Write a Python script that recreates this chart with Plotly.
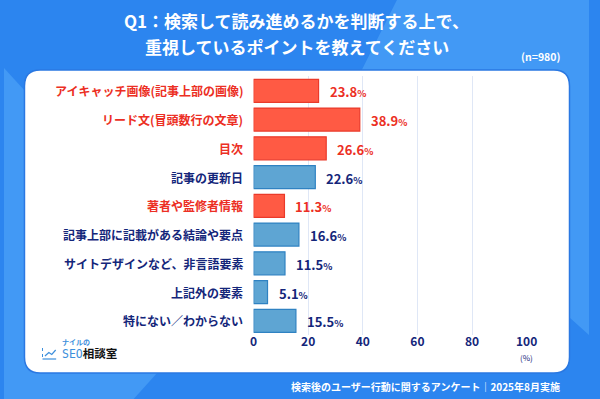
import plotly.graph_objects as go

categories = ["アイキャッチ画像(記事上部の画像)", "リード文(冒頭数行の文章)", "目次", "記事の更新日",
              "著者や監修者情報", "記事上部に記載がある結論や要点", "サイトデザインなど、非言語要素",
              "上記外の要素", "特にない／わからない"]
values = [23.8, 38.9, 26.6, 22.6, 11.3, 16.6, 11.5, 5.1, 15.5]
highlight = [True, True, True, False, True, False, False, False, False]
x_ticks = [0, 20, 40, 60, 80, 100]

W, H = 600, 399
def px(x): return x / W
def py(y): return 1 - y / H

RED_TXT = "#ec2f24"
NAVY = "#14267a"
RED_FILL, RED_LINE = "#ff5a44", "#ea3a2a"
BLUE_FILL, BLUE_LINE = "#5ea5d3", "#2f82c2"
FONT = "Noto Sans CJK JP"

def rrect(x0, y0, x1, y1, r):
    pts = [
        f"M {px(x0+r)},{py(y0)}", f"L {px(x1-r)},{py(y0)}", f"Q {px(x1)},{py(y0)} {px(x1)},{py(y0+r)}",
        f"L {px(x1)},{py(y1-r)}", f"Q {px(x1)},{py(y1)} {px(x1-r)},{py(y1)}",
        f"L {px(x0+r)},{py(y1)}", f"Q {px(x0)},{py(y1)} {px(x0)},{py(y1-r)}",
        f"L {px(x0)},{py(y0+r)}", f"Q {px(x0)},{py(y0)} {px(x0+r)},{py(y0)}", "Z"]
    return " ".join(pts)

def poly(points):
    s = " ".join(("M" if i == 0 else "L") + f" {px(x)},{py(y)}" for i, (x, y) in enumerate(points))
    return s + " Z"

ypos = list(range(len(categories)))
fig = go.Figure()
fig.add_trace(go.Bar(
    x=values, y=ypos, orientation="h", width=0.8,
    marker=dict(color=[RED_FILL if h else BLUE_FILL for h in highlight],
                line=dict(color=[RED_LINE if h else BLUE_LINE for h in highlight], width=1.2)),
    hoverinfo="skip", showlegend=False))

shapes = []
shapes.append(dict(type="rect", xref="paper", yref="paper", x0=0, x1=1, y0=0, y1=1,
                   fillcolor="#2c85ef", line=dict(width=0), layer="below"))
shapes.append(dict(type="path", xref="paper", yref="paper",
                   path=poly([(403, 0), (600, 0), (600, 335), (560, 300), (300, 200)]),
                   fillcolor="#4299f5", line=dict(width=0), layer="below"))
shapes.append(dict(type="path", xref="paper", yref="paper",
                   path=poly([(0, 68), (30, 100), (157, 373), (133, 399), (0, 399)]),
                   fillcolor="#4299f5", line=dict(width=0), layer="below"))
shapes.append(dict(type="path", xref="paper", yref="paper", path=rrect(21, 70, 580, 373, 16),
                   fillcolor="white", line=dict(color="#2a78e2", width=1.5), layer="below"))
icon_c = "#3d8fdc"
shapes.append(dict(type="line", xref="paper", yref="paper", x0=px(39.5), x1=px(39.5), y0=py(348), y1=py(358),
                   line=dict(color=icon_c, width=1, dash="dot")))
shapes.append(dict(type="line", xref="paper", yref="paper", x0=px(39.5), x1=px(53.5), y0=py(359), y1=py(359),
                   line=dict(color=icon_c, width=1.2)))
shapes.append(dict(type="path", xref="paper", yref="paper",
                   path=f"M {px(42)},{py(356)} L {px(46)},{py(352.5)} L {px(49)},{py(354.5)} L {px(53)},{py(350)}",
                   line=dict(color=icon_c, width=1.2)))

ann = []
for i, (c, v, h) in enumerate(zip(categories, values, highlight)):
    col = RED_TXT if h else NAVY
    ann.append(dict(x=px(247), xref="paper", y=i, yref="y", text=f"<b>{c}</b>", showarrow=False,
                    xanchor="right", yanchor="middle", font=dict(family=FONT, size=12, color=col)))
    ann.append(dict(x=v, xref="x", y=i, yref="y", xshift=9,
                    text=f"<b>{v:.1f}</b><b><span style='font-size:9.5px'>%</span></b>", showarrow=False,
                    xanchor="left", yanchor="middle", yshift=-1, font=dict(family=FONT, size=13, color=col)))

ann.append(dict(x=100, xref="x", y=py(357), yref="paper", text="(%)", showarrow=False,
                xanchor="center", yanchor="middle", font=dict(family=FONT, size=8, color=NAVY)))
ann.append(dict(x=0.5, xref="paper", y=py(21), yref="paper",
                text="<b>Q1：検索して読み進めるかを判断する上で、</b>", showarrow=False,
                xanchor="center", yanchor="middle", font=dict(family=FONT, size=17, color="white")))
ann.append(dict(x=0.5, xref="paper", y=py(46), yref="paper",
                text="<b>重視しているポイントを教えてください</b>", showarrow=False,
                xanchor="center", yanchor="middle", font=dict(family=FONT, size=17, color="white")))
ann.append(dict(x=px(572), xref="paper", y=py(56), yref="paper", text="<b>(n=980)</b>", showarrow=False,
                xanchor="right", yanchor="middle", font=dict(family=FONT, size=10.5, color="white")))
ann.append(dict(x=px(572), xref="paper", y=py(386), yref="paper",
                text="<b>検索後のユーザー行動に関するアンケート｜2025年8月実施</b>", showarrow=False,
                xanchor="right", yanchor="middle", font=dict(family=FONT, size=10, color="white")))
ann.append(dict(x=px(57), xref="paper", y=py(342), yref="paper", text="<b>ナイルの</b>", showarrow=False,
                xanchor="left", yanchor="middle", font=dict(family=FONT, size=7, color=icon_c)))
ann.append(dict(x=px(57), xref="paper", y=py(354), yref="paper",
                text="<span style='color:#3d8fdc'>SEO</span><b>相談室</b>", showarrow=False,
                xanchor="left", yanchor="middle", font=dict(family="DejaVu Sans Mono, " + FONT, size=11.5, color="#111111")))

fig.update_layout(
    autosize=True, margin=dict(l=0, r=0, t=0, b=0),
    paper_bgcolor="#2c85ef", plot_bgcolor="rgba(0,0,0,0)",
    shapes=shapes, annotations=ann,
    xaxis=dict(domain=[px(256), px(536)], range=[0, 100], tickvals=x_ticks,
               ticktext=[f"<b>{t}</b>" for t in x_ticks], showgrid=True, gridcolor="#dfe7f6", gridwidth=1,
               zeroline=False, showline=False, ticks="", fixedrange=True, ticklabelstandoff=-2,
               tickfont=dict(family=FONT, size=12, color=NAVY)),
    yaxis=dict(domain=[py(335.2), py(76.4)], range=[8.5, -0.5], showticklabels=False,
               showgrid=False, zeroline=False, showline=False, ticks="", fixedrange=True),
)
post = ("document.documentElement.style.margin='0';document.body.style.margin='0';"
        "document.documentElement.style.overflow='hidden';document.body.style.overflow='hidden';"
        "var d=document.getElementsByClassName('plotly-graph-div')[0];"
        "d.style.position='fixed';d.style.left='0px';d.style.top='0px';"
        "d.style.width='100vw';d.style.height='100vh';"
        "Plotly.relayout(d,{width:window.innerWidth,height:window.innerHeight});")
fig.write_html("out.html", config={"displayModeBar": False, "responsive": True},
               default_width="100vw", default_height="100vh", post_script=post)
